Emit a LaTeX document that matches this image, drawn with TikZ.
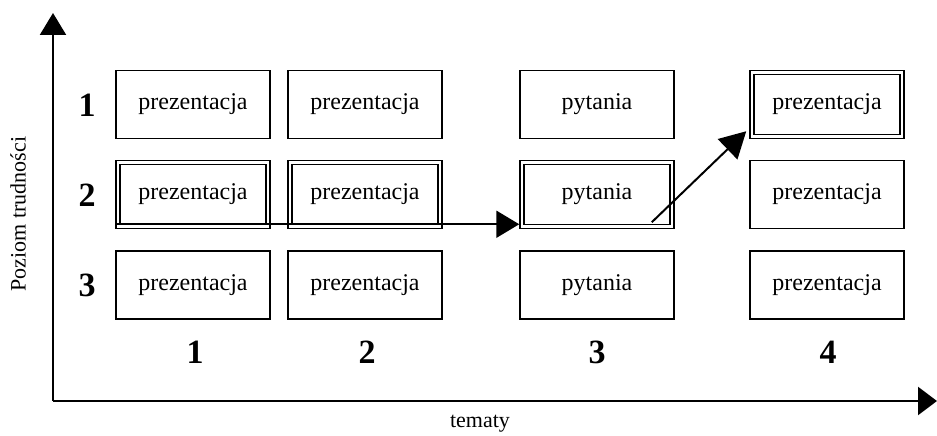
\documentclass[tikz,border=0pt]{standalone}
\usepackage{fontspec}
\setmainfont{Liberation Serif}
\usetikzlibrary{arrows.meta}
\begin{document}
\begin{tikzpicture}[x=1pt,y=-1pt,
  cell/.style={draw=black, line width=1.8pt, minimum width=154pt, minimum height=68pt,
    inner sep=0pt, font=\fontsize{24}{28}\selectfont},
  chosen/.style={cell, line width=1.5pt, double=white, double distance=2.4pt,
    minimum width=150pt, minimum height=64pt},
  digit/.style={font=\fontsize{34}{38}\selectfont\bfseries},
  axislabel/.style={font=\fontsize{22}{26}\selectfont},
  axis/.style={line width=2.2pt},
  path/.style={line width=2pt}]
\useasboundingbox (0,0) rectangle (937,436);

% axes
\coordinate (origin) at (53,401);
\coordinate (ytop) at (53,13);
\coordinate (xend) at (937,401);
\draw[axis, -{Triangle[length=22pt,width=26pt]}] (origin) -- (ytop);
\draw[axis, -{Triangle[length=19pt,width=28pt]}] (origin) -- (xend);
\node[axislabel, rotate=90] (ylab) at (18,214) {Poziom trudności};
\node[axislabel] (xlab) at (480,424) {tematy};

% level labels
\node[digit] (r1) at (87,105) {1};
\node[digit] (r2) at (87,195) {2};
\node[digit] (r3) at (87,285) {3};

% topic labels
\node[digit] (c1) at (195,352) {1};
\node[digit] (c2) at (367,352) {2};
\node[digit] (c3) at (597,352) {3};
\node[digit] (c4) at (828,352) {4};

% topic 1
\node[cell]   (b11) at (193,104.5) {prezentacja};
\node[chosen] (b12) at (193,194.5) {prezentacja};
\node[cell]   (b13) at (193,285) {prezentacja};
% topic 2
\node[cell]   (b21) at (365,104.5) {prezentacja};
\node[chosen] (b22) at (365,194.5) {prezentacja};
\node[cell]   (b23) at (365,285) {prezentacja};
% topic 3
\node[cell]   (b31) at (597,104.5) {pytania};
\node[chosen] (b32) at (597,194.5) {pytania};
\node[cell]   (b33) at (597,285) {pytania};
% topic 4
\node[chosen] (b41) at (827,104.5) {prezentacja};
\node[cell]   (b42) at (827,194.5) {prezentacja};
\node[cell]   (b43) at (827,285) {prezentacja};

% learning path
\draw[path, -{Triangle[length=23pt,width=27pt]}]
  ([xshift=-2pt,yshift=3pt]b12.south west) -- ([xshift=-2pt,yshift=3pt]b32.south west);
\draw[path, -{Triangle[length=26pt,width=28pt]}]
  ([xshift=-21pt,yshift=5pt]b32.south east) -- ([xshift=-5pt,yshift=6pt]b41.south west);
\end{tikzpicture}
\end{document}
